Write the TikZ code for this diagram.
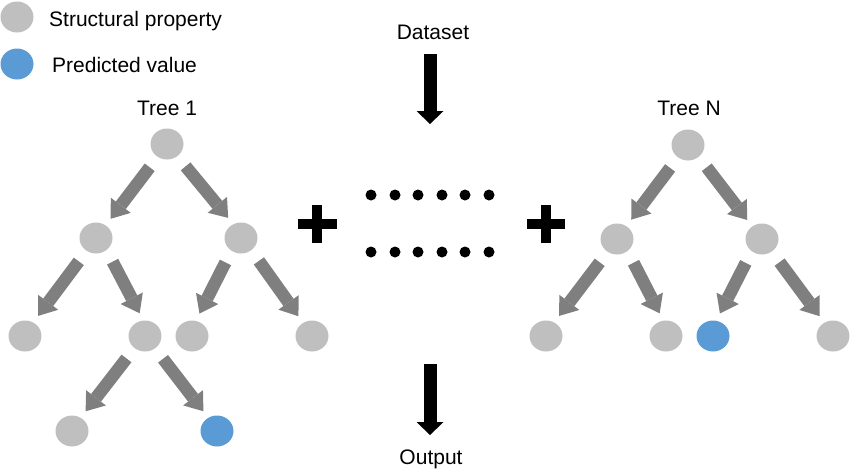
\documentclass[tikz,border=0pt]{standalone}
\usepackage{fontspec}
\setmainfont{Liberation Sans}
\usetikzlibrary{arrows.meta,shapes.geometric}
\definecolor{propgray}{RGB}{191,191,191}
\definecolor{predblue}{RGB}{91,155,213}
\definecolor{arrowgray}{RGB}{127,127,127}
\tikzset{
	prop/.style={ellipse,fill=propgray,minimum width=33pt,minimum height=31pt,inner sep=0pt},
	pred/.style={prop,fill=predblue},
	lbl/.style={inner sep=0pt,font=\fontsize{21}{25}\selectfont},
	branch/.style={draw=arrowgray,line width=12.5pt,-{Triangle[width=25pt,length=17pt,line width=0pt]},shorten <=13pt,shorten >=8pt},
	flow/.style={draw=black,line width=13pt,-{Triangle[width=27pt,length=13pt,line width=0pt]}}
}

\begin{document}
\begin{tikzpicture}[x=1pt,y=-1pt]
				\useasboundingbox (0,0) rectangle (850,469);
				
				% legend
				\node[prop] (keyprop) at (17,17) {};
				\node[lbl,anchor=base west] (keyproptxt) at (49,26) {Structural property};
				\node[pred] (keypred) at (17,64) {};
				\node[lbl,anchor=base west] (keypredtxt) at (52,72) {Predicted value};
				
				% tree 1
				\node[lbl,anchor=base] (t1lbl) at (167,115) {Tree 1};
				\node[prop] (t1r) at (167,144) {};
				\node[prop] (t1a) at (96,238) {};
				\node[prop] (t1b) at (241,238) {};
				\node[prop] (t1c) at (25,336) {};
				\node[prop] (t1d) at (145,336) {};
				\node[prop] (t1e) at (192,336) {};
				\node[prop] (t1f) at (312,336) {};
				\node[prop] (t1g) at (72,431) {};
				\node[pred] (t1h) at (217,431) {};
				
				\draw[branch] (t1r.-126) -- (t1a.53);
				\draw[branch] (t1r.-50) -- (t1b.119);
				\draw[branch] (t1a.-126) -- (t1c.59);
				\draw[branch] (t1a.-49) -- (t1d.96);
				\draw[branch] (t1b.-127) -- (t1e.76);
				\draw[branch] (t1b.-50) -- (t1f.124);
				\draw[branch] (t1d.-131) -- (t1g.57);
				\draw[branch] (t1d.-51) -- (t1h.123);
				
				% tree N
				\node[lbl,anchor=base] (tnlbl) at (689,115) {Tree N};
				\node[prop] (tnr) at (688,145) {};
				\node[prop] (tna) at (617,239) {};
				\node[prop] (tnb) at (762,239) {};
				\node[prop] (tnc) at (546,336) {};
				\node[prop] (tnd) at (666,336) {};
				\node[pred] (tne) at (713,336) {};
				\node[prop] (tnf) at (833,336) {};
				
				\draw[branch] (tnr.-129) -- (tna.54);
				\draw[branch] (tnr.-48) -- (tnb.128);
				\draw[branch] (tna.-126) -- (tnc.59);
				\draw[branch] (tna.-49) -- (tnd.100);
				\draw[branch] (tnb.-130) -- (tne.78);
				\draw[branch] (tnb.-52) -- (tnf.123);
				
				% plus signs
				\fill (298,219) rectangle (337,229);
				\fill (312,205) rectangle (322,243);
				\fill (527,219) rectangle (565,229);
				\fill (541,205) rectangle (551,243);
				
				% dots
				\foreach \x in {371,395,418,442,465,489} {
					\fill (\x,195) circle (5.5);
					\fill (\x,252) circle (5.5);
				}
				
				% dataset and output
				\node[lbl,anchor=base] (data) at (433,39) {Dataset};
				\coordinate (datatip) at (430,124);
				\draw[flow] (data.south -| datatip) ++(0,15) coordinate (datatop) -- (datatip);
				
				\node[lbl,anchor=base] (out) at (431,464) {Output};
				\coordinate (outtop) at (430,364);
				\coordinate (outtip) at (430,435);
				\draw[flow] (outtop) -- (outtip);
\end{tikzpicture}
\end{document}
